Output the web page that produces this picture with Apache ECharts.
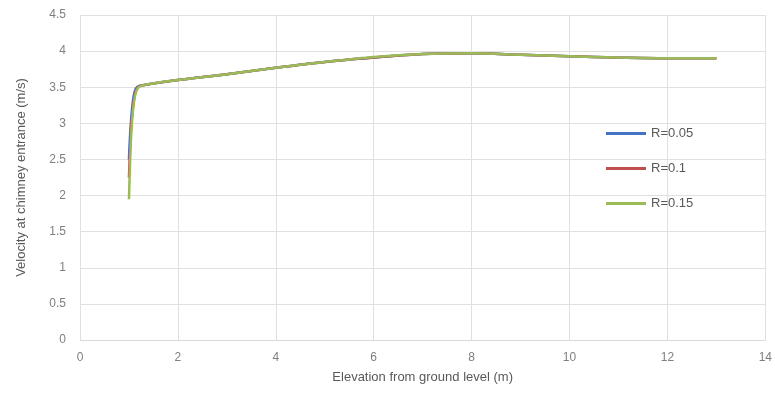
<!DOCTYPE html>
<html><head><meta charset="utf-8">
<script src="https://cdn.jsdelivr.net/npm/echarts@6/dist/echarts.min.js"></script>
<style>html,body{margin:0;padding:0;background:#fff}#c{width:775px;height:394px}</style>
</head><body><div id="c"></div>
<script>
const seriesNames = ['R=0.05', 'R=0.1', 'R=0.15'];
const colors = ['#4472C4', '#C0504D', '#9BBB59'];
const r005 = [[1.0,2.5],[1.02,2.8],[1.05,3.1],[1.09,3.35],[1.14,3.48],[1.22,3.52],[2,3.6],[3,3.68],[4,3.77],[5,3.85],[6,3.91],[7,3.96],[8,3.97],[9,3.95],[10,3.93],[11,3.91],[12,3.9],[13,3.9]];
const r01 = [[1.0,2.25],[1.02,2.6],[1.05,3.0],[1.1,3.32],[1.15,3.47],[1.23,3.52],[2,3.6],[3,3.68],[4,3.77],[5,3.85],[6,3.91],[7,3.96],[8,3.97],[9,3.95],[10,3.93],[11,3.91],[12,3.9],[13,3.9]];
const r015 = [[1.0,1.95],[1.02,2.4],[1.05,2.9],[1.1,3.28],[1.16,3.46],[1.25,3.52],[2,3.6],[3,3.68],[4,3.77],[5,3.85],[6,3.92],[7,3.96],[8,3.97],[9,3.95],[10,3.93],[11,3.91],[12,3.9],[13,3.9]];
const allData = [r005, r01, r015];
const font = 'Liberation Sans';
const chart = echarts.init(document.getElementById('c'));
chart.setOption({
  animation: false,
  backgroundColor: '#fff',
  grid: {left: 80, right: 9, top: 15, bottom: 54},
  legend: {
    orient: 'vertical', left: 601, top: 122, itemGap: 22,
    itemWidth: 40, itemHeight: 3,
    icon: 'rect',
    data: seriesNames,
    textStyle: {color: '#595959', fontSize: 13, fontFamily: font}
  },
  xAxis: {
    type: 'value', min: 0, max: 14, interval: 2,
    name: 'Elevation from ground level (m)', nameLocation: 'middle', nameGap: 31,
    nameTextStyle: {color: '#595959', fontSize: 13, fontFamily: font},
    axisLine: {show: true, lineStyle: {color: '#d9d9d9'}},
    axisTick: {show: false},
    axisLabel: {color: '#7f7f7f', fontSize: 12, fontFamily: font, margin: 12},
    splitLine: {show: true, lineStyle: {color: '#e0e0e0'}}
  },
  yAxis: {
    type: 'value', min: 0, max: 4.5, interval: 0.5,
    name: 'Velocity at chimney entrance (m/s)', nameLocation: 'middle', nameGap: 52,
    nameTextStyle: {color: '#595959', fontSize: 13, fontFamily: font},
    axisLine: {show: false},
    axisTick: {show: false},
    axisLabel: {color: '#7f7f7f', fontSize: 12, fontFamily: font, margin: 14},
    splitLine: {show: true, lineStyle: {color: '#e0e0e0'}}
  },
  series: seriesNames.map((n, i) => ({
    name: n, type: 'line', data: allData[i], showSymbol: false, smooth: 0.3,
    lineStyle: {width: 2.5, color: colors[i]}, itemStyle: {color: colors[i]}
  }))
});
</script></body></html>
